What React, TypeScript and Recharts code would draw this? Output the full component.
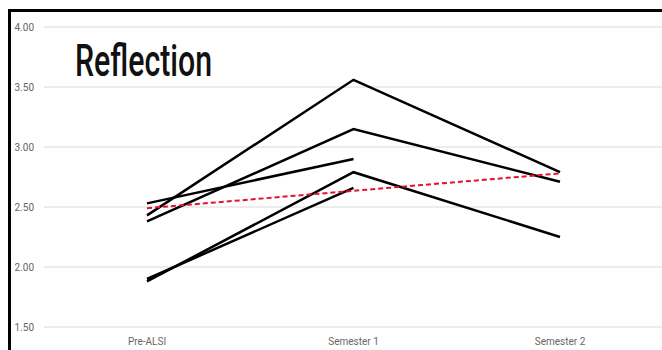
import { CartesianGrid, Line, LineChart, XAxis, YAxis } from "recharts";

const stages = ["Pre-ALSI", "Semester 1", "Semester 2"];

// one list per respondent line, null = no value for that stage
const lineA = [2.43, 3.56, 2.79];
const lineB = [2.38, 3.15, 2.71];
const lineC = [2.53, 2.9, null];
const lineD = [1.88, 2.79, 2.25];
const lineE = [1.9, 2.66, null];
const trend = [2.49, 2.635, 2.78];

const yTicks = [1.5, 2, 2.5, 3, 3.5, 4];

const seriesKeys = ["a", "b", "c", "d", "e"];
const seriesData = [lineA, lineB, lineC, lineD, lineE];

const data = stages.map((stage, i) => {
    const row: Record<string, string | number | null> = { stage, trend: trend[i] };
    seriesKeys.forEach((k, j) => {
        row[k] = seriesData[j][i];
    });
    return row;
});

const tickStyle = { fill: "#666666", fontSize: 10, fontFamily: "Roboto, 'Liberation Sans', sans-serif" };

export default function App() {
    return (
        <div style={{ position: "relative", width: 662, height: 350, overflow: "hidden", background: "#fff" }}>
            <style>{`body{margin:0}`}</style>
            <div
                style={{
                    position: "absolute",
                    left: 8,
                    top: 9,
                    width: 700,
                    height: 400,
                    borderLeft: "3px solid #000",
                    borderTop: "3px solid #000",
                    boxSizing: "border-box",
                }}
            />
            <div style={{ position: "absolute", left: 0, top: 0 }}>
                <LineChart width={700} height={350} data={data} margin={{ top: 27, right: 37, left: 0, bottom: 0 }}>
                    <CartesianGrid vertical={false} stroke="#d9d9d9" strokeWidth={1} />
                    <XAxis
                        dataKey="stage"
                        tickLine={false}
                        axisLine={false}
                        height={23}
                        tickMargin={5}
                        padding={{ left: 103, right: 103 }}
                        tick={tickStyle}
                    />
                    <YAxis
                        domain={[1.5, 4]}
                        ticks={yTicks}
                        width={44}
                        tickLine={false}
                        axisLine={false}
                        tickMargin={4}
                        tick={tickStyle}
                        tickFormatter={(v) => Number(v).toFixed(2)}
                    />
                    {seriesKeys.map((k) => (
                        <Line
                            key={k}
                            dataKey={k}
                            stroke="#000000"
                            strokeWidth={2.5}
                            dot={false}
                            connectNulls={false}
                            isAnimationActive={false}
                        />
                    ))}
                    <Line
                        dataKey="trend"
                        stroke="#e8112d"
                        strokeWidth={2}
                        strokeDasharray="5 3"
                        dot={false}
                        isAnimationActive={false}
                    />
                </LineChart>
            </div>
            <svg width={662} height={350} style={{ position: "absolute", left: 0, top: 0, pointerEvents: "none" }}>
                <text
                    x={75}
                    y={76}
                    fontSize={45}
                    fontFamily="'Liberation Sans Narrow', Roboto, 'DejaVu Sans', sans-serif"
                    fontWeight={500}
                    fill="#111"
                    textLength={137}
                    lengthAdjust="spacingAndGlyphs"
                >
                    Reflection
                </text>
            </svg>
        </div>
    );
}
